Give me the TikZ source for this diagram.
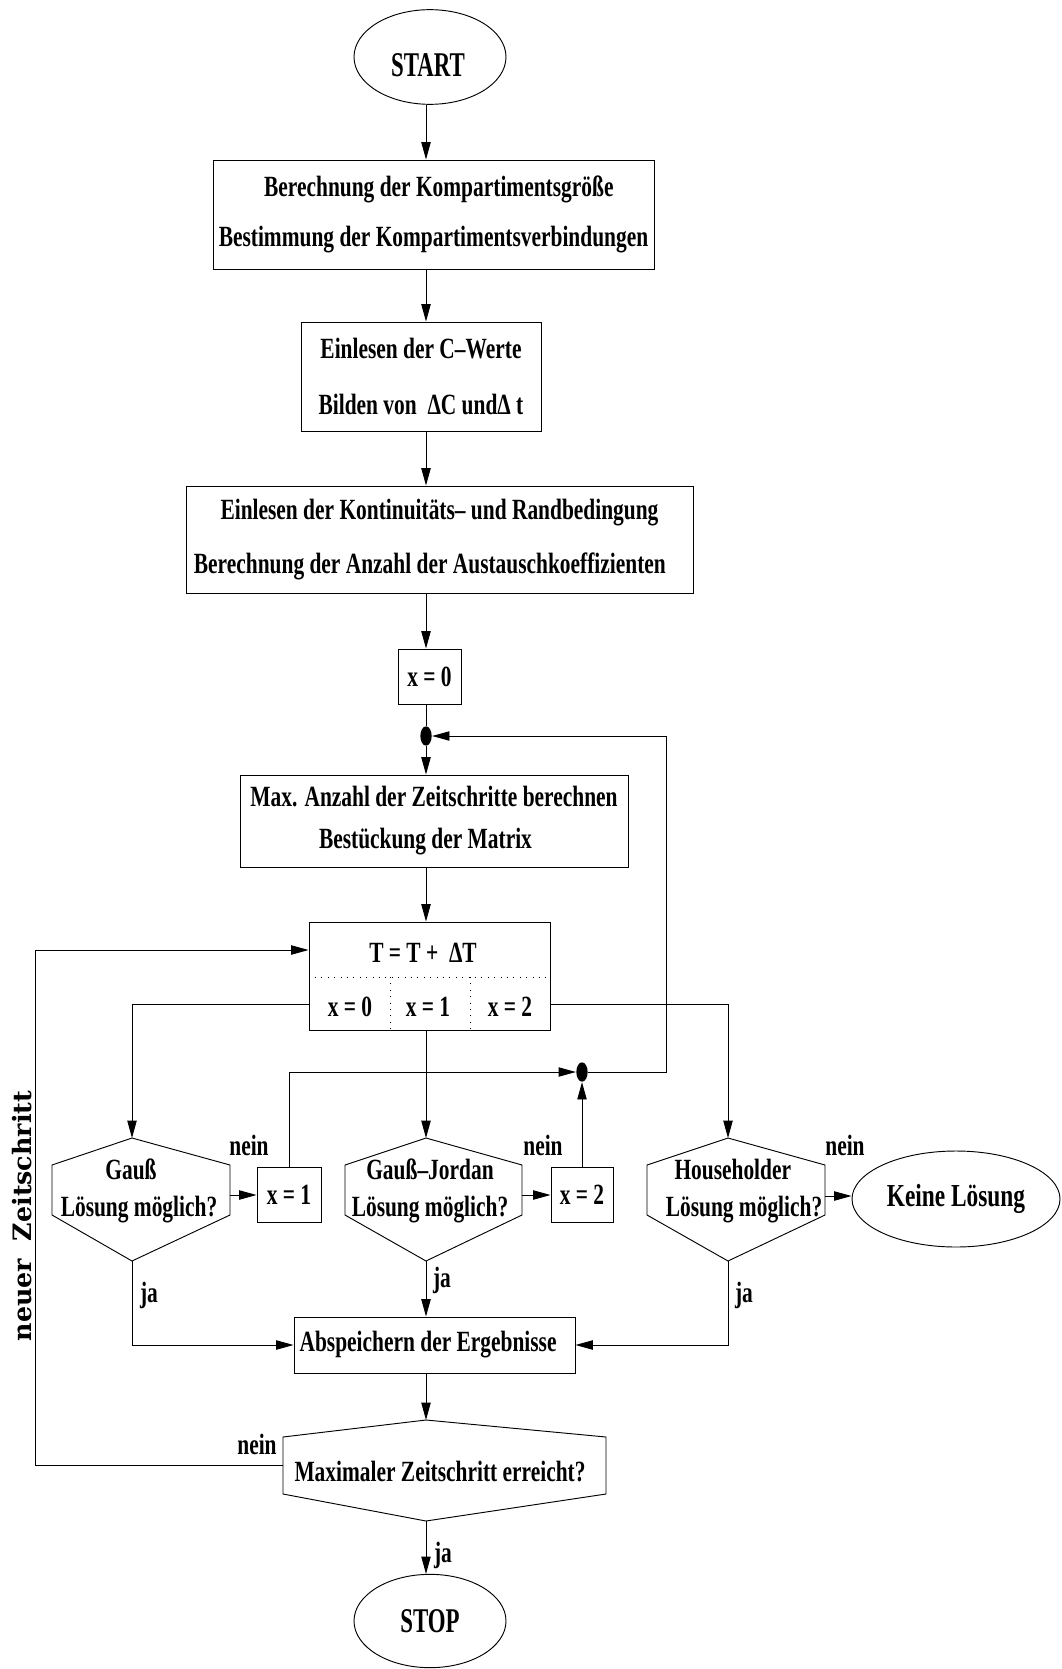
\documentclass[tikz,border=0pt]{standalone}
\usepackage{fontspec}
\usepackage{tikz}
\usetikzlibrary{positioning,arrows.meta,shapes.geometric,calc}
\newfontfamily\figfont{Liberation Serif}[FakeStretch=0.73]
\newfontfamily\endfont{Liberation Serif}[FakeStretch=0.66]
\newfontfamily\sidefont{DejaVu Serif}

\begin{document}
\begin{tikzpicture}[
          x=0.75pt, y=-0.75pt,
          line width=0.7pt,
          txt/.style={font=\figfont\bfseries\fontsize{22}{26}\selectfont, align=center},
          box/.style={txt, draw, rectangle, inner sep=0pt},
          term/.style={draw, ellipse, inner sep=0pt, font=\endfont\bfseries\fontsize{26}{30}\selectfont},
          termtxt/.style={inner sep=0pt, font=\endfont\bfseries\fontsize{26}{30}\selectfont},
          lbl/.style={txt, inner sep=0pt},
          junc/.style={ellipse, fill, inner sep=0pt, minimum width=8.5pt, minimum height=14.5pt},
          arr/.style={-{Triangle[length=13pt,width=7pt]}}
      ]
        \useasboundingbox (0,0) rectangle (1062,1669);
        \coordinate (axis) at (426,0);
        \node[term, minimum width=114pt, minimum height=71pt] (start) at (430,57) {};
        \node[termtxt] (starttxt) at (428,65) {START};
        \node[box, minimum width=330.75pt, minimum height=81.75pt] (kompart) at (433.5,214.5)
          {\hspace*{8pt}Berechnung der Kompartimentsgröße\\[12pt]Bestimmung der Kompartimentsverbindungen};
        \node[box, minimum width=180pt, minimum height=81.75pt] (cwerte) at (421,376.5)
          {Einlesen der C–Werte\\[16pt]Bilden von\ \ ΔC undΔ t};
        \node[box, minimum width=380.25pt, minimum height=80.25pt] (randbed) at (439.5,539.5)
          {Einlesen der Kontinuitäts– und Randbedingung\\[14.5pt]Berechnung der Anzahl der Austauschkoeffizienten\hspace*{14.4pt}};
        \node[box, minimum width=47.25pt, minimum height=41.25pt] (xnull) at (429.5,676.5) {x = 0};
        \node[junc] (junc1) at (426,736) {};
        \node[box, minimum width=291pt, minimum height=69pt] (matrix) at (434,821)
          {Max. Anzahl der Zeitschritte berechnen\\[5.5pt]Bestückung der Matrix\hspace*{12.8pt}};
        \node[box, minimum width=180.75pt, minimum height=81pt] (tbox) at (429.5,976) {};
        \node[lbl] (tstep) at (423,953) {T = T +\ \ ΔT};
        \node[lbl] (xa) at (350,1007) {x = 0};
        \node[lbl] (xb) at (428,1007) {x = 1};
        \node[lbl] (xc) at (510,1007) {x = 2};
        \draw[dash pattern=on 0.8pt off 4pt] (tbox.west |- 0,977) -- (tbox.east |- 0,977);
        \draw[dash pattern=on 0.8pt off 4pt] (390,977) -- (390,1030);
        \draw[dash pattern=on 0.8pt off 4pt] (470,977) -- (470,1030);

        \draw (132,1138) coordinate (gauss-n) -- (230,1165) -- (230,1215) -- (132,1261) coordinate (gauss-s) -- (52,1215) -- (52,1165) -- cycle;
        \coordinate (gauss-e) at (230,1195);
        \node[lbl] (gauss) at (139,1191) {Gauß\hspace*{12pt}\\[1.5pt]Lösung möglich?};
        \draw (426,1138) coordinate (gj-n) -- (522,1165) -- (522,1215) -- (426,1261) coordinate (gj-s) -- (345,1215) -- (345,1165) -- cycle;
        \coordinate (gj-e) at (522,1195);
        \node[lbl] (gj) at (430,1191) {Gauß–Jordan\\[1.5pt]Lösung möglich?};
        \draw (728,1138) coordinate (hh-n) -- (825,1165) -- (825,1215) -- (728,1261) coordinate (hh-s) -- (647,1215) -- (647,1165) -- cycle;
        \coordinate (hh-e) at (825,1196);
        \node[lbl] (hh) at (744,1191) {Householder\hspace*{16.8pt}\\[1.5pt]Lösung möglich?};

        \node[box, minimum width=48pt, minimum height=41.25pt] (xeins) at (289,1195) {x = 1};
        \node[box, minimum width=46.5pt, minimum height=41.25pt] (xzwei) at (582,1195) {x = 2};
        \node[junc] (junc2) at (582,1072) {};
        \node[draw, ellipse, inner sep=0pt, minimum width=156pt, minimum height=72pt,
          font=\figfont\bfseries\fontsize{24}{28}\selectfont] (keine) at (956,1199) {Keine Lösung};
        \node[box, minimum width=210.75pt, minimum height=42pt] (absp) at (434.5,1345) {Abspeichern der Ergebnisse\hspace*{9.6pt}};

        \draw (426,1420) coordinate (maxz-n) -- (606,1437) -- (606,1494) -- (426,1521) coordinate (maxz-s) -- (283,1494) -- (283,1437) -- cycle;
        \coordinate (maxz-w) at (283,1465);
        \node[lbl] (maxz) at (440,1472) {Maximaler Zeitschritt erreicht?};
        \node[term, minimum width=114pt, minimum height=70pt] (stop) at (430,1621) {STOP};

        \node[lbl] (nein1) at (249,1145) {nein};
        \node[lbl] (nein2) at (543,1145) {nein};
        \node[lbl] (nein3) at (845,1145) {nein};
        \node[lbl] (nein4) at (257,1444) {nein};
        \node[lbl] (ja1) at (149,1295) {ja};
        \node[lbl] (ja2) at (442,1280) {ja};
        \node[lbl] (ja3) at (744,1295) {ja};
        \node[lbl] (ja4) at (443,1555) {ja};
        \node[font=\sidefont\bfseries\fontsize{19}{23}\selectfont, rotate=90, inner sep=0pt] (neuzeit) at (22,1216) {neuer\ \ Zeitschritt};

        \coordinate (split) at (0,1004);
        \coordinate (loopr) at (666,0);
        \coordinate (back) at (35,950);
        \draw[arr] (axis |- start.south) -- (axis |- kompart.north);
        \draw[arr] (axis |- kompart.south) -- (axis |- cwerte.north);
        \draw[arr] (axis |- cwerte.south) -- (axis |- randbed.north);
        \draw[arr] (axis |- randbed.south) -- (axis |- xnull.north);
        \draw (axis |- xnull.south) -- (junc1);
        \draw[arr] (junc1) -- (axis |- matrix.north);
        \draw[arr] (axis |- matrix.south) -- (axis |- tbox.north);
        \draw[arr] (tbox.west |- split) -| (gauss-n);
        \draw[arr] (axis |- tbox.south) -- (gj-n);
        \draw[arr] (tbox.east |- split) -| (hh-n);
        \draw[arr] (gauss-e) -- (gauss-e -| xeins.west);
        \draw[arr] (gj-e) -- (gj-e -| xzwei.west);
        \draw[arr] (hh-e) -- (hh-e -| keine.west);
        \draw[arr] (xeins.north) |- (junc2);
        \draw[arr] (xzwei.north) -- (junc2);
        \draw[arr] (junc2) -| (loopr |- junc1) -- (junc1);
        \draw[arr] (gauss-s) |- (absp.west);
        \draw[arr] (gj-s) -- (axis |- absp.north);
        \draw[arr] (hh-s) |- (absp.east);
        \draw[arr] (axis |- absp.south) -- (maxz-n);
        \draw[arr] (maxz-w) -| (back) -- (back -| tbox.west);
        \draw[arr] (maxz-s) -- (axis |- stop.north);
      \end{tikzpicture}
\end{document}
